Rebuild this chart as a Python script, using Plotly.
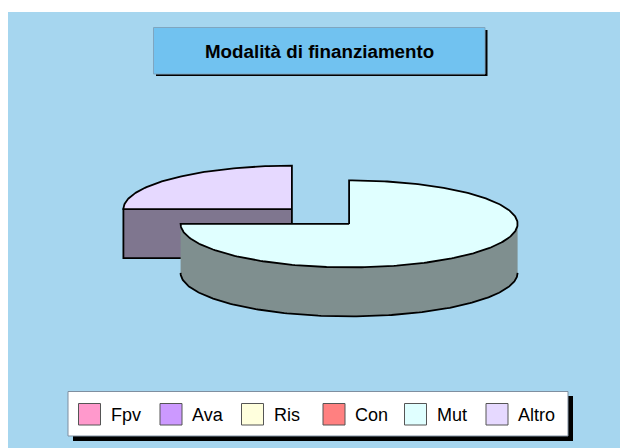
import numpy as np
import plotly.graph_objects as go

categories = ["Fpv", "Ava", "Ris", "Con", "Mut", "Altro"]
values = [0, 0, 0, 0, 75, 25]
colors = ["#FF99CC", "#CC99FF", "#FFFFDD", "#FF8080", "#E0FFFF", "#E6D9FF"]
side_colors = ["#804D66", "#664D80", "#80806F", "#804040", "#7F8F8F", "#7F768F"]
title_text = "Modalità di finanziamento"

# pie geometry, in page pixels
CX, CY = 320.5, 216.5
RX, RY = 168.5, 43.5
DEPTH = 49
EXPLODE = 0.24
FONT = "Liberation Sans, Arial, sans-serif"


def arc(cx, cy, a0, a1):
    # angles in degrees, clockwise from the top
    t = np.radians(np.linspace(a0, a1, max(int(abs(a1 - a0)), 2)))
    return cx + RX * np.sin(t), cy - RY * np.cos(t)


fig = go.Figure()

# slices, left one first so that the big one is drawn over it
slices = []
start = 0
total = sum(values)
for name, val, col, side in zip(categories, values, colors, side_colors):
    sweep = 360 * val / total
    if val > 0:
        slices.append((name, start, start + sweep, col, side))
    start += sweep

for name, a0, a1, col, side in sorted(slices, key=lambda s: -s[1]):
    mid = np.radians((a0 + a1) / 2)
    cx = CX + EXPLODE * RX * np.sin(mid)
    cy = CY - EXPLODE * RY * np.cos(mid)

    # outer wall: only the part of the rim that faces the viewer
    lo, hi = max(a0, 90), min(a1, 270)
    if hi > lo:
        x, y = arc(cx, cy, lo, hi)
        fig.add_trace(go.Scatter(
            x=np.r_[x, x[::-1]], y=np.r_[y, y[::-1] + DEPTH],
            mode="lines", fill="toself", fillcolor=side, line=dict(width=0),
            hoverinfo="skip"))
        fig.add_trace(go.Scatter(
            x=x, y=y + DEPTH, mode="lines",
            line=dict(color="black", width=1.8), hoverinfo="skip"))

    # cut face of a slice that ends on the left of the pie
    if a0 >= 180:
        x, y = arc(cx, cy, a0, a0)
        fig.add_trace(go.Scatter(
            x=[cx, x[0], x[0], cx, cx],
            y=[cy, y[0], y[0] + DEPTH, cy + DEPTH, cy],
            mode="lines", fill="toself", fillcolor=side,
            line=dict(color="black", width=1.8), hoverinfo="skip"))

    # top face
    x, y = arc(cx, cy, a0, a1)
    fig.add_trace(go.Scatter(
        x=np.r_[cx, x, cx], y=np.r_[cy, y, cy],
        mode="lines", fill="toself", fillcolor=col,
        line=dict(color="black", width=1.8), hoverinfo="skip"))

shapes = [
    # panel
    dict(type="rect", x0=8, y0=12, x1=620, y1=448, fillcolor="#A6D6EF", line_width=0),
    # title box
    dict(type="rect", x0=156, y0=30, x1=487.5, y1=76, fillcolor="black", line_width=0),
    dict(type="rect", x0=153.5, y0=27.5, x1=485, y1=74, fillcolor="#71C2F0",
         line=dict(color="#7FA6C0", width=1)),
    # legend box
    dict(type="rect", x0=73, y0=396, x1=573, y1=441, fillcolor="black", line_width=0),
    dict(type="rect", x0=68, y0=391.5, x1=568, y1=436, fillcolor="white",
         line=dict(color="#7F8FA0", width=1)),
]

annotations = [dict(x=319.5, y=51, text="<b>%s</b>" % title_text, showarrow=False,
                    font=dict(family=FONT, size=18.75, color="black"))]

# legend entries
for i, (name, col) in enumerate(zip(categories, colors)):
    left = 78.5 + 81.5 * i
    shapes.append(dict(type="rect", x0=left, y0=403.5, x1=left + 22, y1=425,
                       fillcolor=col, line=dict(color="#555555", width=1)))
    annotations.append(dict(x=left + 30, y=414.5, text=name, showarrow=False,
                            xanchor="left", font=dict(family=FONT, size=18, color="black")))

for s in shapes:
    s["xref"], s["yref"], s["layer"] = "x", "y", "below"

fig.update_layout(
    width=620, height=448,
    margin=dict(l=0, r=0, t=0, b=0),
    paper_bgcolor="white", plot_bgcolor="rgba(0,0,0,0)",
    showlegend=False,
    xaxis=dict(range=[0, 620], visible=False, fixedrange=True),
    yaxis=dict(range=[448, 0], visible=False, fixedrange=True),
    shapes=shapes,
    annotations=annotations,
)

# the page's default body margin would push the figure 8px off
fig.write_html("out.html", config={"displayModeBar": False},
               post_script="document.body.style.margin='0';document.body.style.overflow='hidden';")
